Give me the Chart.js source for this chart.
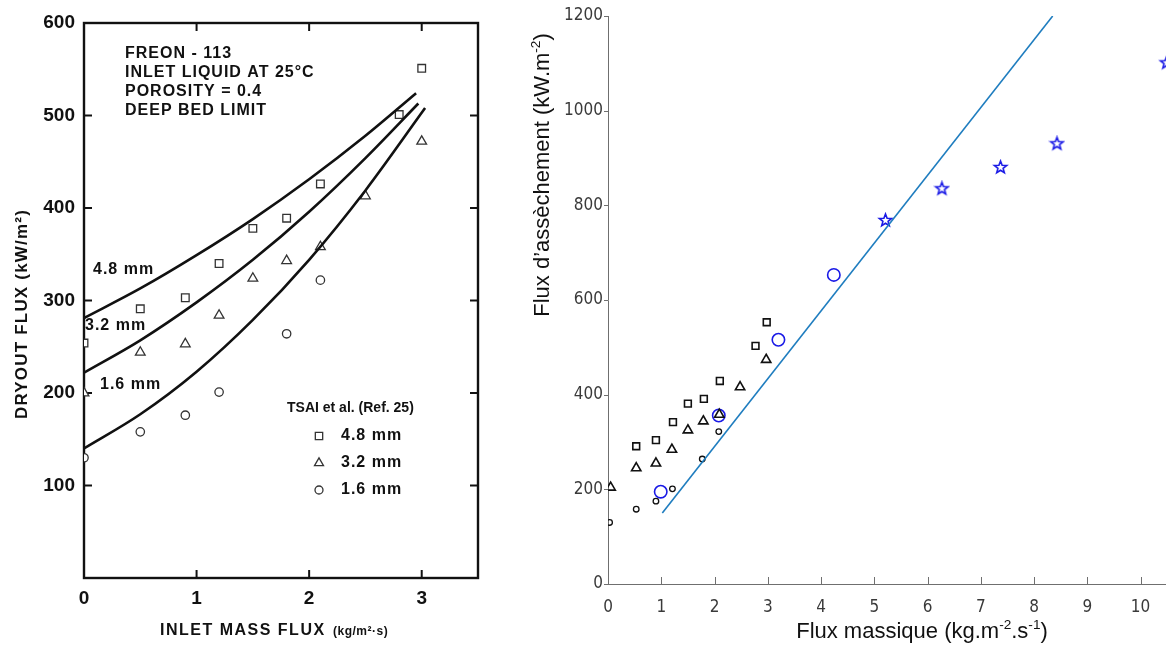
<!DOCTYPE html>
<html>
<head>
<meta charset="utf-8">
<script src="https://cdn.jsdelivr.net/npm/chart.js@4.4.0/dist/chart.umd.min.js"></script>
<style>
  html, body { margin: 0; padding: 0; background: #fff; overflow: hidden; }
  body { width: 1166px; height: 648px; position: relative; }
  #gauche { position: absolute; left: 0; top: 0; width: 500px; height: 648px; }
  #droite { position: absolute; left: 520px; top: 0; width: 655px; height: 648px; }
</style>
</head>
<body>
<canvas id="gauche" width="500" height="648"></canvas>
<canvas id="droite" width="655" height="648"></canvas>
<script>
// ---- figure de gauche (Freon-113, Tsai et al.) ----
const mesX48 = [0, 0.5, 0.9, 1.2, 1.5, 1.8, 2.1, 2.8, 3.0];
const mesY48 = [254, 291, 303, 340, 378, 389, 426, 501, 551];
const mesX32 = [0, 0.5, 0.9, 1.2, 1.5, 1.8, 2.1, 2.5, 3.0];
const mesY32 = [200, 244, 253, 284, 324, 343, 358, 413, 472];
const mesX16 = [0, 0.5, 0.9, 1.2, 1.8, 2.1];
const mesY16 = [130, 158, 176, 201, 264, 322];

const courbeX48 = [0, 0.5, 1, 1.5, 2, 2.5, 2.95];
const courbeY48 = [281, 313, 349, 388, 431, 478, 524];
const courbeX32 = [0, 0.5, 1, 1.5, 2, 2.5, 2.97];
const courbeY32 = [222, 257, 298, 344, 396, 454, 513];
const courbeX16 = [0, 0.5, 1, 1.5, 2, 2.5, 3.03];
const courbeY16 = [140, 177, 223, 279, 344, 419, 508];

const ticksXGauche = [0, 1, 2, 3];
const ticksYGauche = [100, 200, 300, 400, 500, 600];

// ---- figure de droite (comparaison) ----
const carresX = [0.53, 0.9, 1.22, 1.5, 1.8, 2.1, 2.77, 2.98];
const carresY = [291, 304, 342, 381, 391, 429, 503, 553];
const trianglesX = [0.05, 0.53, 0.9, 1.2, 1.5, 1.79, 2.09, 2.48, 2.97];
const trianglesY = [204, 245, 255, 284, 325, 344, 358, 416, 474];
const cerclesX = [0.03, 0.53, 0.9, 1.21, 1.77, 2.08];
const cerclesY = [130, 158, 175, 201, 264, 322];
const bleusX = [0.99, 2.08, 3.2, 4.24];
const bleusY = [195, 356, 516, 653];
const etoilesX = [5.21, 6.27, 7.37, 8.43, 10.49];
const etoilesY = [768, 835, 880, 930, 1101];
const droiteX = [1.02, 8.35];
const droiteY = [150, 1200];

function points(xs, ys) {
  return xs.map((x, i) => ({ x: x, y: ys[i] }));
}

function trait(ctx, x1, y1, x2, y2) {
  ctx.beginPath();
  ctx.moveTo(x1, y1);
  ctx.lineTo(x2, y2);
  ctx.stroke();
}

// texte avec exposants : parts = [[texte, exposant?], ...]
function texteRiche(ctx, parts, x, y, taille, famille) {
  let total = 0;
  const largeurs = parts.map(p => {
    ctx.font = (p[1] ? taille * 0.62 : taille) + "px " + famille;
    const w = ctx.measureText(p[0]).width;
    total += w;
    return w;
  });
  let cx = x - total / 2;
  parts.forEach((p, i) => {
    ctx.font = (p[1] ? taille * 0.62 : taille) + "px " + famille;
    ctx.fillText(p[0], cx, p[1] ? y - taille * 0.42 : y);
    cx += largeurs[i];
  });
}

// étoile à 5 branches (pentagramme MATLAB)
function etoile(r, couleur) {
  const c = document.createElement("canvas");
  const s = Math.ceil(r * 2 + 4);
  c.width = s; c.height = s;
  const g = c.getContext("2d");
  g.beginPath();
  for (let i = 0; i < 10; i++) {
    const a = -Math.PI / 2 + i * Math.PI / 5;
    const rr = i % 2 ? r * 0.42 : r;
    g.lineTo(s / 2 + rr * Math.cos(a), s / 2 + rr * Math.sin(a));
  }
  g.closePath();
  g.strokeStyle = couleur;
  g.lineWidth = 1.6;
  g.stroke();
  return c;
}

const policeScan = "'Liberation Sans', Arial, sans-serif";

const decorGauche = {
  id: "decorGauche",
  beforeDatasetsDraw(chart) {
    const { ctx, chartArea: a, scales: { x, y } } = chart;
    ctx.save();
    ctx.strokeStyle = "#111";
    ctx.lineWidth = 2.4;
    ctx.strokeRect(a.left, a.top, a.right - a.left, a.bottom - a.top);
    ctx.lineWidth = 2;
    ticksYGauche.filter(v => v < 600).forEach(v => {
      const py = y.getPixelForValue(v);
      trait(ctx, a.left, py, a.left + 8, py);
      trait(ctx, a.right, py, a.right - 8, py);
    });
    ticksXGauche.filter(v => v > 0).forEach(v => {
      const px = x.getPixelForValue(v);
      trait(ctx, px, a.top, px, a.top + 8);
      trait(ctx, px, a.bottom, px, a.bottom - 8);
    });
    ctx.restore();
  },
  afterDraw(chart) {
    const { ctx } = chart;
    ctx.save();
    ctx.fillStyle = "#111";
    ctx.textBaseline = "middle";
    ctx.textAlign = "left";
    ctx.letterSpacing = "1px";
    ctx.font = "bold 16px " + policeScan;
    ["FREON - 113", "INLET LIQUID AT 25\u00B0C", "POROSITY = 0.4", "DEEP BED LIMIT"].forEach((t, i) => {
      ctx.fillText(t, 125, 54 + i * 19);
    });
    ctx.fillText("4.8 mm", 93, 270);
    ctx.fillText("3.2 mm", 85, 326);
    ctx.fillText("1.6 mm", 100, 385);

    // légende Tsai
    ctx.letterSpacing = "0px";
    ctx.font = "bold 14px " + policeScan;
    ctx.fillText("TSAI et al. (Ref. 25)", 287, 408);
    const leg = [["rect", 5.2, "4.8 mm"], ["triangle", 5.2, "3.2 mm"], ["circle", 4, "1.6 mm"]];
    leg.forEach((l, i) => {
      const py = 436 + i * 27;
      ctx.fillStyle = "#fff";
      ctx.strokeStyle = "#333";
      ctx.lineWidth = 1.3;
      Chart.helpers.drawPoint(ctx, { pointStyle: l[0], radius: l[1], rotation: 0, borderWidth: 1.3 }, 319, py);
      ctx.fillStyle = "#111";
      ctx.letterSpacing = "1px";
      ctx.font = "bold 16px " + policeScan;
      ctx.fillText(l[2], 341, py);
    });

    // titres des axes
    ctx.letterSpacing = "1.5px";
    ctx.font = "bold 16px " + policeScan;
    ctx.fillText("INLET MASS FLUX", 160, 631);
    ctx.letterSpacing = "0.5px";
    ctx.font = "bold 12px " + policeScan;
    ctx.fillText("(kg/m\u00B2\u00B7s)", 333, 632);

    ctx.translate(22, 314);
    ctx.rotate(-Math.PI / 2);
    ctx.textAlign = "center";
    ctx.letterSpacing = "1.2px";
    ctx.font = "bold 17px " + policeScan;
    ctx.fillText("DRYOUT FLUX (kW/m\u00B2)", 0, 0);
    ctx.restore();
  }
};

function courbe(xs, ys) {
  return {
    data: points(xs, ys), showLine: true, pointRadius: 0,
    borderColor: "#111", borderWidth: 2.6, cubicInterpolationMode: "monotone"
  };
}

function marques(xs, ys, style, r) {
  return {
    data: points(xs, ys), pointStyle: style, pointRadius: r,
    pointBorderColor: "#333", pointBackgroundColor: "#fff", pointBorderWidth: 1.3
  };
}

new Chart(document.getElementById("gauche"), {
  type: "scatter",
  data: {
    datasets: [
      courbe(courbeX48, courbeY48),
      courbe(courbeX32, courbeY32),
      courbe(courbeX16, courbeY16),
      marques(mesX48, mesY48, "rect", 5.4),
      marques(mesX32, mesY32, "triangle", 5.6),
      marques(mesX16, mesY16, "circle", 4.2)
    ]
  },
  options: {
    responsive: false,
    animation: false,
    layout: { padding: { top: 23, right: 22, left: 0, bottom: 0 } },
    plugins: { legend: { display: false }, tooltip: { enabled: false } },
    scales: {
      x: {
        type: "linear", min: 0, max: 3.5,
        afterFit: s => { s.height = 70; },
        afterBuildTicks: s => { s.ticks = ticksXGauche.map(v => ({ value: v })); },
        ticks: { padding: 9, maxRotation: 0, color: "#111", callback: v => String(v), font: { family: policeScan, size: 19, weight: "bold" } },
        grid: { display: false, drawTicks: false },
        border: { display: false }
      },
      y: {
        min: 0, max: 600,
        afterFit: s => { s.width = 84; },
        afterBuildTicks: s => { s.ticks = ticksYGauche.map(v => ({ value: v })); },
        ticks: { padding: 9, color: "#111", callback: v => String(v), font: { family: policeScan, size: 19, weight: "bold" } },
        grid: { display: false, drawTicks: false },
        border: { display: false }
      }
    }
  },
  plugins: [decorGauche]
});

// ---- graphique de droite ----
const policeTicks = "'DejaVu Sans Condensed', 'DejaVu Sans', sans-serif";
const policeTitre = "'Liberation Sans', Arial, sans-serif";
const ticksXDroite = [0, 1, 2, 3, 4, 5, 6, 7, 8, 9, 10];
const ticksYDroite = [0, 200, 400, 600, 800, 1000, 1200];

const decorDroite = {
  id: "decorDroite",
  afterDraw(chart) {
    const { ctx, chartArea: a, scales: { x, y } } = chart;
    ctx.save();
    ctx.strokeStyle = "#6f6f6f";
    ctx.lineWidth = 1;
    ticksYDroite.forEach(v => {
      const py = Math.round(y.getPixelForValue(v)) + 0.5;
      trait(ctx, a.left - 4, py, a.left, py);
    });
    ticksXDroite.forEach(v => {
      const px = Math.round(x.getPixelForValue(v)) + 0.5;
      trait(ctx, px, a.bottom, px, a.bottom - 7);
    });
    ctx.fillStyle = "#111";
    ctx.textBaseline = "alphabetic";
    ctx.textAlign = "left";
    texteRiche(ctx, [["Flux massique (kg.m", 0], ["-2", 1], [".s", 0], ["-1", 1], [")", 0]], 402, 638, 22, policeTitre);
    ctx.translate(29, 175);
    ctx.rotate(-Math.PI / 2);
    texteRiche(ctx, [["Flux d\u2019ass\u00E8chement (kW.m", 0], ["-2", 1], [")", 0]], 0, 0, 22, policeTitre);
    ctx.restore();
  }
};

new Chart(document.getElementById("droite"), {
  type: "scatter",
  data: {
    datasets: [
      {
        data: points(droiteX, droiteY), showLine: true, pointRadius: 0,
        borderColor: "#1f7dbf", borderWidth: 1.6
      },
      {
        data: points(carresX, carresY), pointStyle: "rect", pointRadius: 4.8,
        pointBorderColor: "#111", pointBackgroundColor: "rgba(255,255,255,0)", pointBorderWidth: 1.6
      },
      {
        data: points(trianglesX, trianglesY), pointStyle: "triangle", pointRadius: 5.4,
        pointBorderColor: "#111", pointBackgroundColor: "rgba(255,255,255,0)", pointBorderWidth: 1.6
      },
      {
        data: points(cerclesX, cerclesY), pointStyle: "circle", pointRadius: 2.8,
        pointBorderColor: "#111", pointBackgroundColor: "rgba(255,255,255,0)", pointBorderWidth: 1.3
      },
      {
        data: points(bleusX, bleusY), pointStyle: "circle", pointRadius: 6.2,
        pointBorderColor: "#1a1ae6", pointBackgroundColor: "rgba(255,255,255,0)", pointBorderWidth: 1.6
      },
      {
        data: points(etoilesX, etoilesY), pointStyle: etoile(6.5, "#1a1ae6"), clip: false
      }
    ]
  },
  options: {
    responsive: false,
    animation: false,
    layout: { padding: { top: 16, right: 0, left: 0, bottom: 0 } },
    plugins: { legend: { display: false }, tooltip: { enabled: false } },
    scales: {
      x: {
        type: "linear", min: 0, max: 10.5,
        afterFit: s => { s.height = 64; },
        afterBuildTicks: s => { s.ticks = ticksXDroite.map(v => ({ value: v })); },
        ticks: { padding: 13, maxRotation: 0, color: "#3a3a3a", callback: v => String(v), font: { family: policeTicks, size: 17 } },
        grid: { display: false, drawTicks: false },
        border: { color: "#6f6f6f", width: 1 }
      },
      y: {
        min: 0, max: 1200,
        afterFit: s => { s.width = 88; },
        afterBuildTicks: s => { s.ticks = ticksYDroite.map(v => ({ value: v })); },
        ticks: { padding: 5, color: "#3a3a3a", callback: v => String(v), font: { family: policeTicks, size: 17 } },
        grid: { display: false, drawTicks: false },
        border: { color: "#6f6f6f", width: 1 }
      }
    }
  },
  plugins: [decorDroite]
});
</script>
</body>
</html>
